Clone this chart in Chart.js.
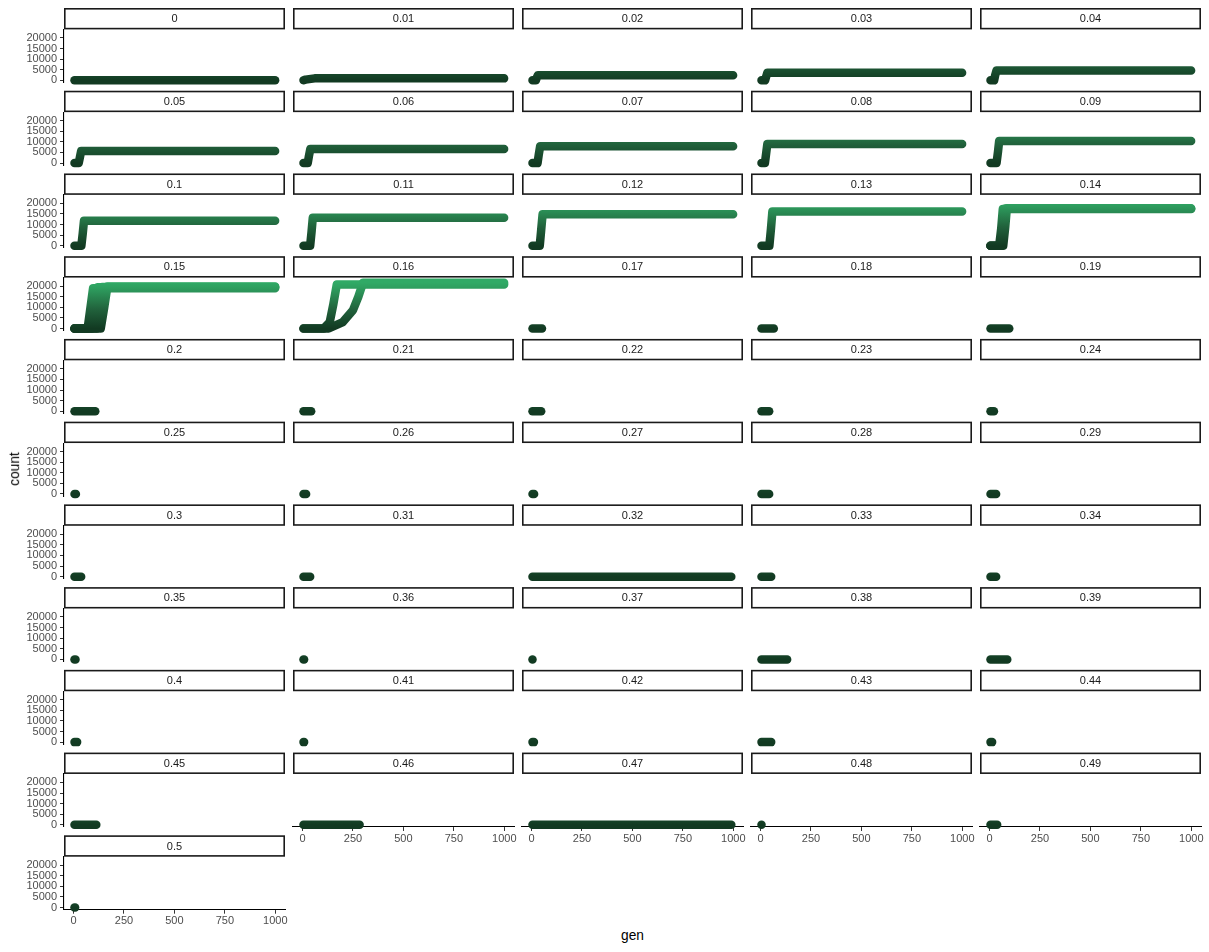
<!DOCTYPE html>
<html>
<head>
<meta charset="utf-8">
<script src="https://cdn.jsdelivr.net/npm/chart.js@4.4.1/dist/chart.umd.min.js"></script>
<style>
html,body{margin:0;padding:0;background:#fff;}
#wrap{position:relative;width:1209px;height:952px;overflow:hidden;background:#fff;}
#wrap canvas{position:absolute;}
.atitle{position:absolute;font-family:"Liberation Sans",Arial,Helvetica,sans-serif;font-size:13.75px;color:#000;white-space:nowrap;line-height:1;}
</style>
</head>
<body>
<div id="wrap"></div>
<script>
// ---------------- DATA ----------------
const panelLabels = ['0','0.01','0.02','0.03','0.04','0.05','0.06','0.07','0.08','0.09',
  '0.1','0.11','0.12','0.13','0.14','0.15','0.16','0.17','0.18','0.19',
  '0.2','0.21','0.22','0.23','0.24','0.25','0.26','0.27','0.28','0.29',
  '0.3','0.31','0.32','0.33','0.34','0.35','0.36','0.37','0.38','0.39',
  '0.4','0.41','0.42','0.43','0.44','0.45','0.46','0.47','0.48','0.49','0.5'];

// last generation reached in each panel
const lastGen = [999,999,999,999,999,999,999,999,999,999,
  999,999,999,999,999,999,999,52,66,98,
  108,43,48,43,22,12,18,13,43,33,
  38,38,990,53,33,10,8,6,132,88,
  18,8,12,53,13,113,283,990,5,38,8];

// first generation drawn
const firstGen = 5;

// growth runs: panel, key generations, counts at those generations (then held to lastGen)
const runPanel = ['0.01','0.02','0.03','0.04','0.05','0.06','0.07','0.08','0.09','0.1',
  '0.11','0.12','0.13','0.14','0.14','0.14','0.15','0.15','0.15','0.15','0.16','0.16'];
const runGens = [
  [5,15,60],
  [5,22,26,32],
  [5,23,28,34],
  [5,23,28,35],
  [5,26,32,38],
  [5,26,32,39],
  [5,30,36,43],
  [5,22,28,34],
  [5,35,42,48],
  [5,39,46,52],
  [5,38,45,51],
  [5,41,48,55],
  [5,44,52,59],
  [5,48,58,66],
  [5,58,68,76],
  [5,68,78,86],
  [5,70,83,97],
  [5,90,105,120],
  [5,115,128,142],
  [5,135,152,168],
  [5,105,135,152,170],
  [5,130,200,250,277,300]
];
const runCounts = [
  [0,300,900],
  [0,0,1200,2400],
  [0,0,1700,3500],
  [0,0,2300,4600],
  [0,0,2800,5650],
  [0,0,3300,6650],
  [0,0,3900,7900],
  [0,0,4500,8940],
  [0,0,5200,10350],
  [0,0,5900,11750],
  [0,0,6600,13150],
  [0,0,7400,14800],
  [0,0,8100,16200],
  [0,0,8000,17300],
  [0,0,8500,17500],
  [0,0,8800,17700],
  [0,0,9000,19000],
  [0,0,9500,19400],
  [0,0,9500,19600],
  [0,0,9700,19800],
  [0,0,3000,11000,20700],
  [0,0,3000,8600,15000,21600]
];

const yTicks = [0,5000,10000,15000,20000];
const xTicks = [0,250,500,750,1000];

// ---------------- STYLE / LAYOUT ----------------
const FONT = '"Liberation Sans", Arial, Helvetica, sans-serif';
Chart.defaults.font.family = FONT;
const X_MIN = -47, X_MAX = 1048, Y_MIN = -1000, Y_MAX = 24000;
const COLOR_MAX = 21700;
const colorStops = [[0,'#123a22'],[9000,'#21623c'],[12000,'#257446'],[19500,'#2ea060'],[21700,'#30aa66']];

function gradientFor(context){
  const ch = context.chart;
  const y = ch.scales && ch.scales.y;
  if (!ch.chartArea || !y) return colorStops[0][1];
  const y0 = y.getPixelForValue(0), y1 = y.getPixelForValue(COLOR_MAX);
  const g = ch.ctx.createLinearGradient(0, y0, 0, y1);
  colorStops.forEach(([v,c]) => g.addColorStop(v/COLOR_MAX, c));
  return g;
}

const stripPlugin = {
  id: 'strip',
  afterDraw(chart, args, opts){
    const {ctx, chartArea} = chart;
    const h = opts.h, lw = 1.6;
    const top = chartArea.top - h;
    ctx.save();
    ctx.fillStyle = '#ffffff';
    ctx.fillRect(chartArea.left, top, chartArea.width, h);
    ctx.strokeStyle = '#1a1a1a';
    ctx.lineWidth = lw;
    ctx.strokeRect(chartArea.left + lw/2, top + lw/2, chartArea.width - lw, h - lw);
    ctx.fillStyle = '#1a1a1a';
    ctx.font = '11px ' + FONT;
    ctx.textAlign = 'center';
    ctx.textBaseline = 'middle';
    ctx.fillText(opts.label, (chartArea.left + chartArea.right)/2, top + h/2 + 0.5);
    ctx.restore();
  }
};

const wrap = document.getElementById('wrap');

function buildDatasets(label, i){
  const sets = [];
  const idxs = [];
  runPanel.forEach((p, k) => { if (p === label) idxs.push(k); });
  if (idxs.length === 0) {
    sets.push([{x:firstGen, y:0},{x:lastGen[i], y:0}]);
  } else {
    idxs.forEach(k => {
      const pts = runGens[k].map((g, j) => ({x:g, y:runCounts[k][j]}));
      const lastC = runCounts[k][runCounts[k].length-1];
      pts.push({x:lastGen[i], y:lastC});
      sets.push(pts);
    });
  }
  return sets.map(pts => ({
    data: pts,
    borderColor: gradientFor,
    borderWidth: 8.5,
    borderCapStyle: 'round',
    borderJoinStyle: 'round',
    pointRadius: 0,
    pointHoverRadius: 0,
    tension: 0,
    fill: false,
    clip: 8
  }));
}

function makePanel(i){
  const label = panelLabels[i];
  const r = Math.floor(i/5), c = i % 5;
  const hasY = c === 0, hasX = i >= 46;
  const plotL = 64 + 229*c, plotW = 221;
  const stripT = 8 + 82.73*r, stripH = 21.4, plotH = 53;
  const leftSpace = hasY ? 64 : 6;
  const rightSpace = 8;
  const bottomSpace = hasX ? 26 : 14;
  const canvasTop = Math.round(stripT) - 2;
  const topPad = stripT - canvasTop + stripH;
  const cw = leftSpace + plotW + rightSpace;
  const ch = Math.round(topPad + plotH + bottomSpace);
  const cv = document.createElement('canvas');
  cv.width = cw; cv.height = ch;
  cv.style.width = cw + 'px'; cv.style.height = ch + 'px';
  cv.style.left = (plotL - leftSpace) + 'px';
  cv.style.top = canvasTop + 'px';
  wrap.appendChild(cv);
  const realBottom = ch - (topPad + plotH);

  new Chart(cv.getContext('2d'), {
    type: 'line',
    data: { datasets: buildDatasets(label, i) },
    plugins: [stripPlugin],
    options: {
      responsive: false,
      animation: false,
      devicePixelRatio: 1,
      events: [],
      layout: { padding: { left: hasY ? 0 : leftSpace, right: rightSpace, top: topPad, bottom: hasX ? 0 : realBottom } },
      plugins: {
        legend: { display: false },
        tooltip: { enabled: false },
        strip: { label: label, h: stripH }
      },
      scales: {
        x: {
          type: 'linear',
          min: X_MIN, max: X_MAX,
          display: hasX,
          afterBuildTicks: s => { s.ticks = xTicks.map(v => ({value: v})); },
          afterFit: s => { if (hasX) s.height = realBottom; },
          grid: { display: true, drawOnChartArea: false, drawTicks: true, tickLength: 4, tickColor: '#333333', tickWidth: 1 },
          border: { display: true, color: '#000000', width: 1.1 },
          ticks: { font: { size: 11 }, color: '#4d4d4d', padding: 1, maxRotation: 0, autoSkip: false,
                   callback: v => String(v) }
        },
        y: {
          type: 'linear',
          min: Y_MIN, max: Y_MAX,
          display: hasY,
          afterBuildTicks: s => { s.ticks = yTicks.map(v => ({value: v})); },
          afterFit: s => { if (hasY) s.width = leftSpace; },
          grid: { display: true, drawOnChartArea: false, drawTicks: true, tickLength: 4, tickColor: '#333333', tickWidth: 1 },
          border: { display: true, color: '#000000', width: 1.1 },
          ticks: { font: { size: 11 }, color: '#4d4d4d', padding: 3, autoSkip: false,
                   callback: v => String(v) }
        }
      }
    }
  });
}

for (let i = 0; i < panelLabels.length; i++) makePanel(i);

// axis titles
const t1 = document.createElement('div');
t1.className = 'atitle';
t1.textContent = 'count';
t1.style.left = '14.5px'; t1.style.top = '469px';
t1.style.transform = 'translate(-50%,-50%) rotate(-90deg)';
wrap.appendChild(t1);
const t2 = document.createElement('div');
t2.className = 'atitle';
t2.textContent = 'gen';
t2.style.left = '632.5px'; t2.style.top = '936px';
t2.style.transform = 'translate(-50%,-50%)';
wrap.appendChild(t2);
</script>
</body>
</html>
